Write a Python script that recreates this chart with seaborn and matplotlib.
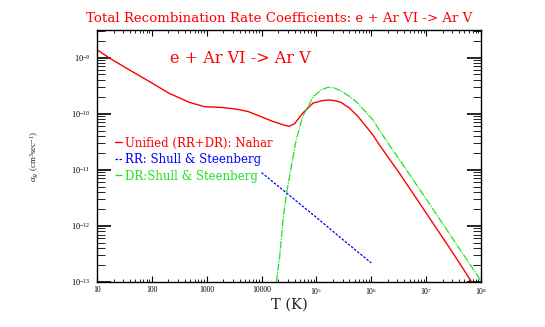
import numpy as np
import pandas as pd
import matplotlib
matplotlib.use("Agg")
import matplotlib.pyplot as plt
import matplotlib.ticker as mticker
import seaborn as sns

# ---- data (log10 values) ----
unified_logT = [1.00, 1.23, 1.59, 1.96, 2.32, 2.69, 2.96, 3.29, 3.54, 3.75, 3.93,
                4.21, 4.40, 4.50, 4.60, 4.75, 4.94, 5.10, 5.22, 5.35, 5.45, 5.60,
                5.75, 6.03, 6.15, 6.52, 7.00, 7.50, 7.83]
unified_logA = [-8.86, -9.01, -9.22, -9.43, -9.64, -9.80, -9.875, -9.89, -9.92, -9.96, -10.03,
                -10.14, -10.20, -10.225, -10.18, -9.99, -9.81, -9.77, -9.755, -9.77, -9.80, -9.90,
                -10.04, -10.38, -10.56, -11.07, -11.77, -12.50, -13.00]

rr_logT = [4.00, 4.50, 5.00, 5.50, 6.00]
rr_logA = [-11.05, -11.45, -11.85, -12.26, -12.66]

dr_logT = [4.27, 4.33, 4.39, 4.45, 4.54, 4.63, 4.75, 4.94, 5.08, 5.21, 5.32, 5.42,
           5.57, 5.73, 6.03, 6.15, 6.52, 7.00, 7.50, 8.00]
dr_logA = [-13.0, -12.55, -11.90, -11.45, -10.95, -10.47, -10.05, -9.70, -9.58, -9.53, -9.54, -9.58,
           -9.67, -9.79, -10.11, -10.30, -10.83, -11.52, -12.25, -12.98]

labels = ["Unified (RR+DR): Nahar", "RR: Shull & Steenberg", "DR:Shull & Steenberg"]
xticks = [1e1, 1e2, 1e3, 1e4, 1e5, 1e6, 1e7, 1e8]
xticklabels = ["10", "100", "1000", "10000", r"$10^5$", r"$10^6$", r"$10^7$", r"$10^8$"]
yticks = [1e-13, 1e-12, 1e-11, 1e-10, 1e-9]
yticklabels = [r"$10^{-13}$", r"$10^{-12}$", r"$10^{-11}$", r"$10^{-10}$", r"$10^{-9}$"]

sns.set_theme(style="ticks")
plt.rcParams["font.family"] = ["Liberation Serif", "DejaVu Serif"]
plt.rcParams["mathtext.fontset"] = "custom"
plt.rcParams["mathtext.rm"] = "Liberation Serif"
plt.rcParams["mathtext.it"] = "Liberation Serif:italic"
WIDE = ["DejaVu Serif", "Liberation Serif"]

fig = plt.figure(figsize=(5.45, 3.27), dpi=100)
ax = fig.add_axes([97 / 545, 1 - 282 / 327, (481 - 97) / 545, (282 - 30) / 327])

df_u = pd.DataFrame({"T": 10 ** np.array(unified_logT), "a": 10 ** np.array(unified_logA)})
df_r = pd.DataFrame({"T": 10 ** np.array(rr_logT), "a": 10 ** np.array(rr_logA)})
df_d = pd.DataFrame({"T": 10 ** np.array(dr_logT), "a": 10 ** np.array(dr_logA)})

red, blue, green = "#ff0000", "#0000ff", "#22e022"
sns.lineplot(data=df_u, x="T", y="a", ax=ax, color=red, lw=1.0, label=labels[0], sort=False)
sns.lineplot(data=df_r, x="T", y="a", ax=ax, color=blue, lw=0.9, label=labels[1], sort=False,
             linestyle=(0, (2, 1.2)))
sns.lineplot(data=df_d, x="T", y="a", ax=ax, color=green, lw=0.9, label=labels[2], sort=False,
             linestyle=(0, (6, 1, 1, 1)))

ax.set_xscale("log")
ax.set_yscale("log")
ax.set_xlim(10, 1e8)
ax.set_ylim(1e-13, 3.1e-9)

ax.set_xticks(xticks)
ax.set_xticklabels(xticklabels)
ax.set_yticks(yticks)
ax.set_yticklabels(yticklabels)
ax.xaxis.set_minor_locator(mticker.LogLocator(base=10, subs=np.arange(2, 10), numticks=20))
ax.yaxis.set_minor_locator(mticker.LogLocator(base=10, subs=np.arange(2, 10), numticks=20))
ax.xaxis.set_minor_formatter(mticker.NullFormatter())
ax.yaxis.set_minor_formatter(mticker.NullFormatter())

ax.tick_params(axis="both", which="both", direction="in", top=True, right=True,
               labelsize=5.5, colors="black")
ax.tick_params(axis="y", which="major", labelsize=6)
ax.tick_params(axis="x", which="major", length=4.5, width=0.8, pad=3)
ax.tick_params(axis="x", which="minor", length=2.2, width=0.6)
ax.tick_params(axis="y", which="major", length=10, width=1.2, pad=5)
ax.tick_params(axis="y", which="minor", length=5.5, width=0.6)
for s in ax.spines.values():
    s.set_linewidth(1.0)
    s.set_color("black")

ax.set_xlabel("T (K)", fontsize=10.5, labelpad=0.5, family=WIDE)
ax.set_ylabel(r"$\alpha_R$ (cm$^3$sec$^{-1}$)", fontsize=6.5, labelpad=21)

fig.text(279 / 545, 1 - 18 / 327, "Total Recombination Rate Coefficients: e + Ar VI -> Ar V",
         color=red, fontsize=9.6, ha="center", va="center", family=WIDE)
ax.text(0.373, 0.885, "e + Ar VI -> Ar V", transform=ax.transAxes, color=red, fontsize=11.5,
        ha="center", va="center", family=WIDE)

leg = ax.legend(loc="upper left", bbox_to_anchor=(0.035, 0.596), frameon=False,
                handlelength=0.55, handletextpad=0.3, labelspacing=0.3,
                prop={"family": WIDE, "size": 8.5},
                labelcolor="linecolor", borderaxespad=0)

fig.savefig("out.png", dpi=100)
